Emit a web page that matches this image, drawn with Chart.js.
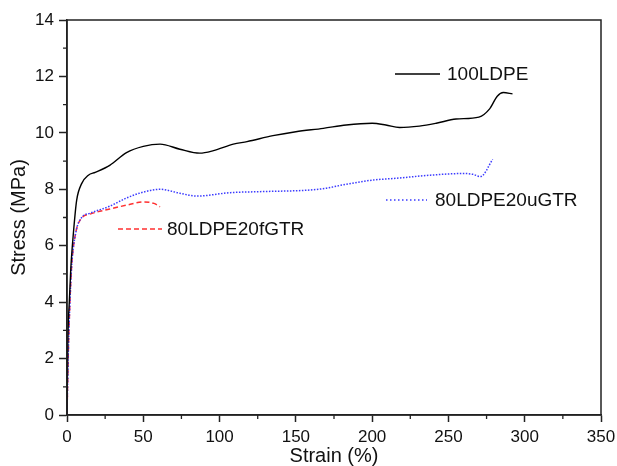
<!DOCTYPE html>
<html>
<head>
<meta charset="utf-8">
<script src="https://cdn.jsdelivr.net/npm/chart.js@4/dist/chart.umd.min.js"></script>
<style>
  html, body { margin: 0; padding: 0; background: #fff; }
  #wrap { width: 617px; height: 466px; position: relative; }
</style>
</head>
<body>
<div id="wrap"><canvas id="c" width="617" height="466"></canvas></div>
<script>
// ---- Data ----
const seriesNames = ["100LDPE", "80LDPE20uGTR", "80LDPE20fGTR"];

const strainLDPE = [0, 0.5, 1.5, 2.5, 4.2, 6.3, 9.6, 14, 18.5, 28, 39, 50, 61, 74, 87, 96, 109, 118, 135, 150, 168, 183, 200, 209, 218, 231, 242, 255, 270, 277, 282, 286, 292];
const stressLDPE = [0, 2.5, 4.0, 5.2, 6.45, 7.6, 8.2, 8.5, 8.6, 8.85, 9.3, 9.52, 9.6, 9.42, 9.28, 9.37, 9.6, 9.69, 9.9, 10.04, 10.16, 10.28, 10.34, 10.28, 10.19, 10.24, 10.34, 10.49, 10.56, 10.85, 11.3, 11.43, 11.38];

const strainU = [0, 0.9, 2, 3, 5.7, 9.6, 15, 28, 39, 50, 61, 74, 85, 107, 129, 161, 170, 183, 201, 216, 238, 260, 266, 271, 279];
const stressU = [0, 2.3, 4.1, 5.25, 6.45, 7.0, 7.15, 7.4, 7.69, 7.9, 8.0, 7.86, 7.76, 7.88, 7.92, 7.98, 8.04, 8.18, 8.33, 8.39, 8.5, 8.56, 8.53, 8.45, 9.06];

const strainF = [0, 0.9, 2, 3, 5.7, 9.6, 15, 28, 40, 50, 57, 61];
const stressF = [0, 2.3, 4.1, 5.25, 6.45, 6.98, 7.12, 7.3, 7.45, 7.55, 7.5, 7.38];

const xTicksMajor = [0, 50, 100, 150, 200, 250, 300, 350];
const yTicksMajor = [0, 2, 4, 6, 8, 10, 12, 14];
const xMinor = [25, 75, 125, 175, 225, 275, 325];
const yMinor = [1, 3, 5, 7, 9, 11, 13];

function pts(xs, ys) { return xs.map((x, i) => ({ x: x, y: ys[i] })); }

const FONT = "'Liberation Sans', Arial, sans-serif";
const AXIS = '#222';

const frame = {
  id: 'frame',
  afterDraw(chart) {
    const { ctx, chartArea: a, scales: { x, y } } = chart;
    ctx.save();
    ctx.strokeStyle = AXIS;
    ctx.lineWidth = 1.5;
    ctx.strokeRect(a.left, a.top, a.right - a.left, a.bottom - a.top);
    // minor ticks
    ctx.lineWidth = 1.3;
    ctx.beginPath();
    xMinor.forEach(v => { const p = x.getPixelForValue(v); ctx.moveTo(p, a.bottom); ctx.lineTo(p, a.bottom + 4); });
    yMinor.forEach(v => { const p = y.getPixelForValue(v); ctx.moveTo(a.left, p); ctx.lineTo(a.left - 4, p); });
    ctx.stroke();
    // in-plot legend labels
    const items = [
      { ds: 0, x1: 395, x2: 440, y: 74, tx: 447, dash: [] },
      { ds: 1, x1: 386, x2: 427, y: 200, tx: 435, dash: [1.5, 2.5] },
      { ds: 2, x1: 118, x2: 162, y: 229, tx: 167, dash: [5, 3] }
    ];
    ctx.font = "19px " + FONT;
    ctx.textBaseline = 'middle';
    ctx.textAlign = 'left';
    items.forEach(it => {
      const d = chart.data.datasets[it.ds];
      ctx.save();
      ctx.strokeStyle = d.borderColor;
      ctx.lineWidth = d.borderWidth;
      ctx.setLineDash(it.dash);
      ctx.beginPath();
      ctx.moveTo(it.x1, it.y);
      ctx.lineTo(it.x2, it.y);
      ctx.stroke();
      ctx.restore();
      ctx.fillStyle = '#111';
      ctx.fillText(d.label, it.tx, it.y + 1);
    });
    ctx.restore();
  }
};

new Chart(document.getElementById('c'), {
  type: 'scatter',
  data: {
    datasets: [
      { label: seriesNames[0], data: pts(strainLDPE, stressLDPE), showLine: true, borderColor: '#000', borderWidth: 1.4, pointRadius: 0, cubicInterpolationMode: 'monotone' },
      { label: seriesNames[1], data: pts(strainU, stressU), showLine: true, borderColor: '#3a3aff', borderWidth: 1.5, borderDash: [1.5, 1.5], pointRadius: 0, cubicInterpolationMode: 'monotone' },
      { label: seriesNames[2], data: pts(strainF, stressF), showLine: true, borderColor: '#ff3030', borderWidth: 1.5, borderDash: [5, 3], pointRadius: 0, cubicInterpolationMode: 'monotone' }
    ]
  },
  options: {
    responsive: false,
    animation: false,
    devicePixelRatio: 1,
    layout: { padding: { top: 20, right: 16, left: 0, bottom: 0 } },
    plugins: { legend: { display: false }, tooltip: { enabled: false } },
    scales: {
      x: {
        type: 'linear', min: 0, max: 350,
        afterBuildTicks: s => { s.ticks = xTicksMajor.map(v => ({ value: v })); },
        afterFit: s => { s.height = 51; s.paddingRight = 0; s.paddingLeft = 0; },
        ticks: { color: '#111', font: { family: FONT, size: 17 }, padding: 5, maxRotation: 0 },
        grid: { display: true, drawOnChartArea: false, drawTicks: true, tickLength: 7, tickColor: AXIS, tickWidth: 1.5 },
        border: { display: true, color: AXIS, width: 1.5 },
        title: { display: true, text: 'Strain (%)', color: '#111', font: { family: FONT, size: 20, lineHeight: 1.0 }, padding: { top: 0, bottom: 0 } }
      },
      y: {
        type: 'linear', min: 0, max: 14,
        afterBuildTicks: s => { s.ticks = yTicksMajor.map(v => ({ value: v })); },
        afterFit: s => { s.width = 67; s.paddingTop = 0; s.paddingBottom = 0; },
        ticks: { color: '#111', font: { family: FONT, size: 17 }, padding: 5 },
        grid: { display: true, drawOnChartArea: false, drawTicks: true, tickLength: 8, tickColor: AXIS, tickWidth: 1.5 },
        border: { display: true, color: AXIS, width: 1.5 },
        title: { display: true, text: 'Stress (MPa)', color: '#111', font: { family: FONT, size: 20, lineHeight: 1.0 }, padding: { top: 9, bottom: 0 } }
      }
    }
  },
  plugins: [frame]
});
</script>
</body>
</html>
